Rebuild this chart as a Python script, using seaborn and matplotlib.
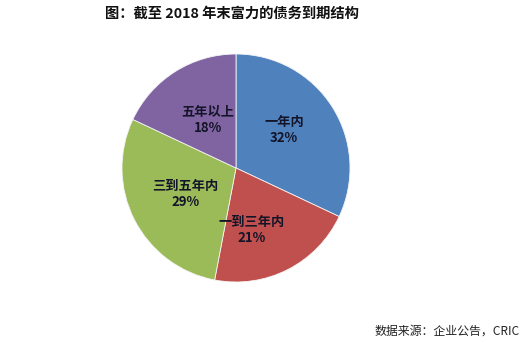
import numpy as np
import matplotlib
matplotlib.use("Agg")
import matplotlib.pyplot as plt
import seaborn as sns

# ---- data ----
categories = ["一年内", "一到三年内", "三到五年内", "五年以上"]
shares = [32, 21, 29, 18]
title_text = "图：截至 2018 年末富力的债务到期结构"
source_text = "数据来源：企业公告，CRIC"

# ---- style ----
slice_colors = ["#4F81BD", "#C0504D", "#9BBB59", "#8064A2"]
label_radius = [0.54, 0.56, 0.50, 0.49]
label_angle_offset = [6, -13, 0, -2]

sns.set_theme(style="white")
plt.rcParams['font.family'] = ['Noto Sans CJK SC', 'DejaVu Sans']

W, H = 522, 343
fig = plt.figure(figsize=(W / 100, H / 100), dpi=100)
fig.patch.set_facecolor("white")

cx, cy, R = 236, 168, 114
ax = fig.add_axes([(cx - R) / W, (H - cy - R) / H, 2 * R / W, 2 * R / H])

palette = sns.color_palette(slice_colors)
wedges, _ = ax.pie(shares, colors=palette, startangle=90, counterclock=False,
                   radius=1.0, wedgeprops=dict(linewidth=0.6, edgecolor="#f4f4f4"))
ax.set_xlim(-1, 1)
ax.set_ylim(-1, 1)
ax.set_aspect("equal")
ax.axis("off")

for w, name, val, r, off in zip(wedges, categories, shares, label_radius, label_angle_offset):
    mid = np.deg2rad((w.theta1 + w.theta2) / 2 + off)
    ax.text(r * np.cos(mid), r * np.sin(mid), f"{name}\n{val}%",
            ha="center", va="center", fontsize=9.5, fontweight="bold",
            color="#141428", linespacing=1.2)

fig.text(105 / W, 1 - 14 / H, title_text, ha="left", va="center",
         fontsize=10.3, fontweight="bold", color="#111111")
fig.text(520 / W, 1 - 331 / H, source_text, ha="right", va="center",
         fontsize=8.6, color="#222222")

fig.savefig("out.png", dpi=100, facecolor="white")
